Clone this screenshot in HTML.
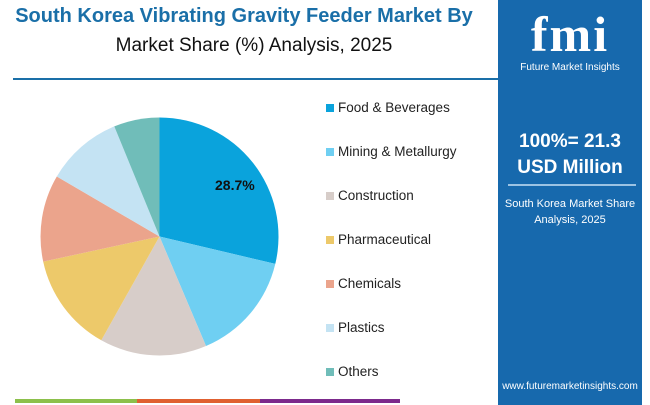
<!DOCTYPE html>
<html><head><meta charset="utf-8"><style>
body{margin:0;width:650px;height:405px;background:#fff;position:relative;overflow:hidden;font-family:"Liberation Sans",sans-serif}
.t1{position:absolute;left:0;width:488px;top:5px;text-align:center;font-weight:bold;color:#1a6fa8;font-size:20px}
.t2{position:absolute;left:0;width:508px;top:35px;text-align:center;color:#111;font-size:19px}
.line{position:absolute;left:13px;top:78px;width:485px;height:2px;background:#1a6fa8}
.panel{position:absolute;left:498px;top:0;width:144px;height:405px;background:#1769ad;color:#fff;text-align:center}
.leg{position:absolute;left:326px;font-size:13.5px;color:#222}
.leg i{position:absolute;left:0;top:4px;width:8px;height:8px}
.leg span{position:absolute;left:12px;top:0;white-space:nowrap}
</style></head><body>
<div class="t1">South Korea Vibrating Gravity Feeder Market By</div>
<div class="t2">Market Share (%) Analysis, 2025</div>
<div class="line"></div>
<svg style="position:absolute;left:0;top:0" width="498" height="405">
<g stroke="none">
<path d="M159.5,236.5 L159.5,117.5 A119,119 0 0 1 275.3,263.9Z" fill="#0aa3dc"/>
<path d="M159.5,236.5 L275.3,263.9 A119,119 0 0 1 206,346Z" fill="#6fcff2"/>
<path d="M159.5,236.5 L206,346 A119,119 0 0 1 101.3,340.3Z" fill="#d7cdc9"/>
<path d="M159.5,236.5 L101.3,340.3 A119,119 0 0 1 43.2,261.6Z" fill="#edc96a"/>
<path d="M159.5,236.5 L43.2,261.6 A119,119 0 0 1 56.8,176.5Z" fill="#eba48c"/>
<path d="M159.5,236.5 L56.8,176.5 A119,119 0 0 1 114.3,126.4Z" fill="#c4e3f3"/>
<path d="M159.5,236.5 L114.3,126.4 A119,119 0 0 1 159.5,117.5Z" fill="#70bdb9"/>
</g>
<text x="215" y="190" font-family="Liberation Sans" font-weight="bold" font-size="14" fill="#111">28.7%</text>
<rect x="15" y="399" width="122" height="4" fill="#8cc04b"/>
<rect x="137" y="399" width="123" height="4" fill="#e06030"/>
<rect x="260" y="399" width="140" height="4" fill="#7c2a8c"/>
</svg>
<div class="leg" style="top:100px"><i style="background:#0aa3dc"></i><span>Food &amp; Beverages</span></div>
<div class="leg" style="top:144px"><i style="background:#6fcff2"></i><span>Mining &amp; Metallurgy</span></div>
<div class="leg" style="top:188px"><i style="background:#d7cdc9"></i><span>Construction</span></div>
<div class="leg" style="top:232px"><i style="background:#edc96a"></i><span>Pharmaceutical</span></div>
<div class="leg" style="top:276px"><i style="background:#eba48c"></i><span>Chemicals</span></div>
<div class="leg" style="top:320px"><i style="background:#c4e3f3"></i><span>Plastics</span></div>
<div class="leg" style="top:364px"><i style="background:#70bdb9"></i><span>Others</span></div>
<div class="panel">
<div style="position:absolute;left:0;width:144px;top:8px;font-family:'Liberation Serif',serif;font-weight:bold;font-size:50px;letter-spacing:2px;line-height:52px">fmi</div>
<div style="position:absolute;left:0;width:144px;top:62px;font-size:10px">Future Market Insights</div>
<div style="position:absolute;left:0;width:144px;top:129px;font-weight:bold;font-size:19px;line-height:26px">100%= 21.3<br>USD Million</div>
<div style="position:absolute;left:10px;width:128px;top:184px;height:2px;background:#9cc3e3"></div>
<div style="position:absolute;left:0;width:144px;top:196px;font-size:11px;line-height:16px">South Korea Market Share<br>Analysis, 2025</div>
<div style="position:absolute;left:0;width:144px;top:381px;font-size:10px">www.futuremarketinsights.com</div>
</div>
</body></html>
